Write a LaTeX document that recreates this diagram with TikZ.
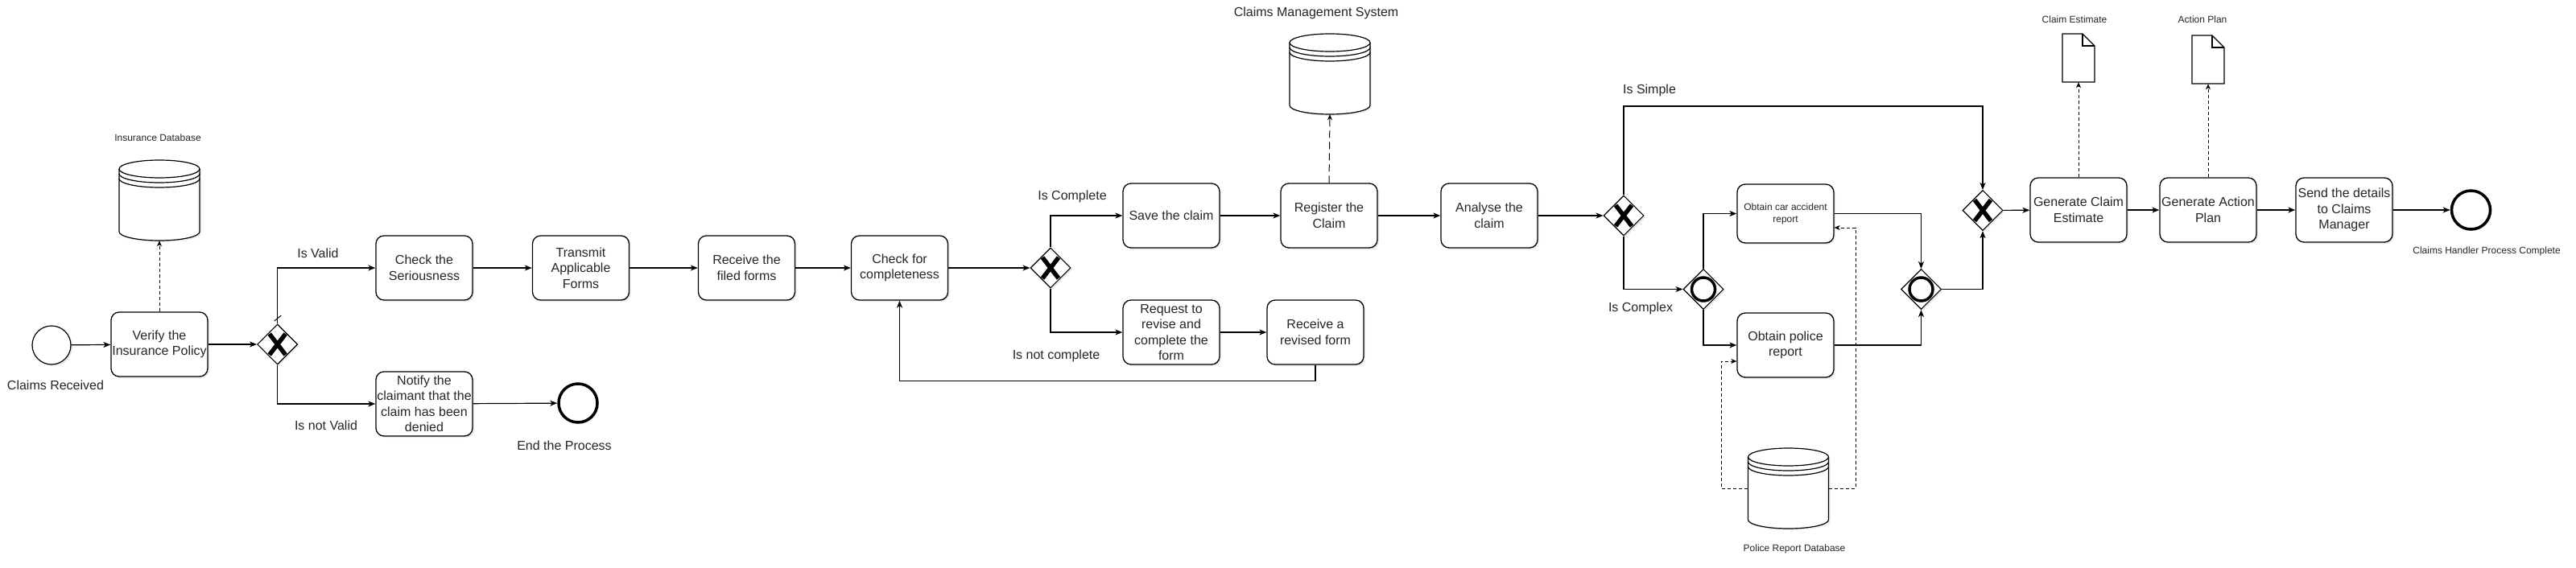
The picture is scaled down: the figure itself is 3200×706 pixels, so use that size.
\documentclass[tikz,border=0pt]{standalone}
\usepackage{fontspec}
\setmainfont{Liberation Sans}
\usetikzlibrary{arrows.meta,shapes.geometric,shadows}
\tikzset{
  shad/.style={drop shadow={shadow xshift=2pt, shadow yshift=-2pt, opacity=0.18}},
  task/.style={draw=black, line width=1.3pt, rectangle, rounded corners=10pt,
    minimum width=120pt, minimum height=80pt, align=center, inner sep=1pt,
    fill=white, font=\fontsize{16}{19.5}\selectfont, text=black!85, shad},
  smalltask/.style={task, minimum height=73pt, font=\fontsize{12}{15}\selectfont},
  gw/.style={draw=black, line width=1.1pt, diamond, minimum width=50pt,
    minimum height=50pt, inner sep=0pt, fill=white, shad},
  startev/.style={draw=black, line width=1.2pt, circle, minimum size=48pt,
    inner sep=0pt, fill=white, shad},
  endev/.style={startev, line width=3.5pt},
  lbl/.style={font=\fontsize{16}{19}\selectfont, text=black!85, inner sep=0pt},
  slbl/.style={font=\fontsize{12}{14}\selectfont, text=black!85, inner sep=0pt},
  holder/.style={rectangle, inner sep=0pt, minimum width=#1},
  flow/.style={line width=1.2pt, -{Stealth[length=9pt,width=7pt,inset=2.5pt]}},
  assoc/.style={line width=1pt, dash pattern=on 4pt off 3pt,
    -{Stealth[length=7pt,width=6pt,inset=2pt]}},
  assocl/.style={assoc, dash pattern=on 9pt off 5pt},
  shapeline/.style={draw=black, line width=1.2pt, fill=white}
}
\newcommand\gwx[1]{\draw[line width=5.5pt]
  ([shift={(-10pt,13pt)}]#1.center) -- ([shift={(10pt,-13pt)}]#1.center)
  ([shift={(-10pt,-13pt)}]#1.center) -- ([shift={(10pt,13pt)}]#1.center);}
\newcommand\gwo[1]{\draw[line width=3.5pt] (#1.center) circle[radius=14.5pt];}
% data store: name, x, y
\newcommand\dstore[3]{%
  \node[holder=100pt, minimum height=100pt] (#1) at (#2,#3) {};
  \path[shapeline, drop shadow={shadow xshift=2pt, shadow yshift=-2pt, opacity=0.15}]
    ([shift={(-50pt,39pt)}]#1.center) -- ([shift={(-50pt,-39pt)}]#1.center)
    arc[start angle=180, end angle=360, x radius=50pt, y radius=11pt]
    -- ([shift={(50pt,39pt)}]#1.center)
    arc[start angle=0, end angle=180, x radius=50pt, y radius=11pt] -- cycle;
  \draw[line width=1.2pt] ([shift={(-50pt,39pt)}]#1.center)
    arc[start angle=180, end angle=360, x radius=50pt, y radius=11pt];
  \draw[line width=1.2pt] ([shift={(-50pt,33pt)}]#1.center)
    arc[start angle=180, end angle=360, x radius=50pt, y radius=11pt];
  \draw[line width=1.2pt] ([shift={(-50pt,27pt)}]#1.center)
    arc[start angle=180, end angle=360, x radius=50pt, y radius=11pt];
}
% document: name, x, y
\newcommand\docshape[3]{%
  \node[holder=40pt, minimum height=60pt] (#1) at (#2,#3) {};
  \path[shapeline] ([shift={(-20pt,30pt)}]#1.center) -- ([shift={(5pt,30pt)}]#1.center)
    -- ([shift={(20pt,15pt)}]#1.center) -- ([shift={(20pt,-30pt)}]#1.center)
    -- ([shift={(-20pt,-30pt)}]#1.center) -- cycle;
  \draw[line width=1.2pt] ([shift={(5pt,30pt)}]#1.center) -- ([shift={(5pt,15pt)}]#1.center)
    -- ([shift={(20pt,15pt)}]#1.center);
}
\begin{document}
\begin{tikzpicture}[x=1pt,y=-1pt]
\useasboundingbox[fill=white] (0,0) rectangle (3200,706);

% ---------- stores and documents ----------
\dstore{insdb}{198}{249}
\dstore{cms}{1652}{92}
\dstore{policedb}{2221.5}{607}
\docshape{doca}{2582}{72}
\docshape{docb}{2743}{74}

% ---------- events ----------
\node[startev] (start) at (64,429) {};
\node[endev] (endA) at (718,501) {};
\node[endev] (endB) at (3069.5,261) {};

% ---------- tasks ----------
\node[task] (verify) at (198,428) {Verify the\\Insurance Policy};
\node[task] (check) at (527,333) {Check the\\Seriousness};
\node[task] (notify) at (527,502) {Notify the\\claimant that the\\claim has been\\denied};
\node[task] (transmit) at (721.5,333) {Transmit\\Applicable\\Forms};
\node[task] (receive) at (927.5,333) {Receive the\\filed forms};
\node[task] (complete) at (1117.5,333) {Check for\\completeness};
\node[task] (save) at (1455,268) {Save the claim};
\node[task] (register) at (1651,268) {Register the\\Claim};
\node[task] (request) at (1455,413) {Request to\\revise and\\complete the\\form};
\node[task] (revised) at (1634,413) {Receive a\\revised form};
\node[task] (analyse) at (1850,268) {Analyse the\\claim};
\node[smalltask] (car) at (2218,265.5) {Obtain car accident\\report};
\node[task] (police) at (2218,429) {Obtain police\\report};
\node[task] (genA) at (2582,261) {Generate Claim\\Estimate};
\node[task] (genB) at (2743,261) {Generate Action\\Plan};
\node[task] (send) at (2912,261) {Send the details\\to Claims\\Manager};

% ---------- gateways ----------
\node[gw] (g1) at (344.7,428) {};
\node[gw] (g2) at (1305,333) {};
\node[gw] (g3) at (2017,268) {};
\node[gw] (g5) at (2116,359.5) {};
\node[gw] (g6) at (2386.5,359.5) {};
\node[gw] (g4) at (2463,261.5) {};
\gwx{g1}\gwx{g2}\gwx{g3}\gwx{g4}
\gwo{g5}\gwo{g6}

% ---------- labels ----------
\node[lbl] (lstart) at (69,479) {Claims Received};
\node[lbl] (lend) at (701,554) {End the Process};
\node[slbl] (linsdb) at (196,171) {Insurance Database};
\node[lbl] (lcms) at (1635,16) {Claims Management System};
\node[slbl] (lpdb) at (2229,682) {Police Report Database};
\node[slbl] (ldoca) at (2577,24) {Claim Estimate};
\node[slbl] (ldocb) at (2736,24) {Action Plan};
\node[slbl] (lendB) at (3089,312) {Claims Handler Process Complete};
\node[lbl] (lvalid) at (395,315) {Is Valid};
\node[lbl] (lnvalid) at (405,529) {Is not Valid};
\node[lbl] (lcompl) at (1332,244) {Is Complete};
\node[lbl] (lncompl) at (1312,442) {Is not complete};
\node[lbl] (lsimple) at (2049,112) {Is Simple};
\node[lbl] (lcomplex) at (2038,383) {Is Complex};

% ---------- helper coordinates ----------
\coordinate (sy) at (2017,132);
\coordinate (pl) at (2138,607);
\coordinate (pr) at (2305,607);

% ---------- sequence flows ----------
\draw[flow] (start) -- (verify);
\draw[flow] (verify) -- (g1);
\draw[flow] (g1.north) |- (check.west);
\draw[flow] (g1.south) |- (notify.west);
\draw[line width=1pt] (340.7,399) -- (349.3,392);
\draw[flow] (notify) -- (endA);
\draw[flow] (check) -- (transmit);
\draw[flow] (transmit) -- (receive);
\draw[flow] (receive) -- (complete);
\draw[flow] (complete) -- (g2);
\draw[flow] (g2.north) |- (save.west);
\draw[flow] (g2.south) |- (request.west);
\draw[flow] (save) -- (register);
\draw[flow] (request) -- (revised);
\draw[flow] (revised.south) -- ++(0,20) -| (complete.south);
\draw[flow] (register) -- (analyse);
\draw[flow] (analyse) -- (g3);
\draw[flow] (g3.north) -- (sy) -| (g4.north);
\draw[flow] (g3.south) |- (g5.west);
\draw[flow] (g5.north) |- (car.west);
\draw[flow] (g5.south) |- (police.west);
\draw[flow] (car.east) -| (g6.north);
\draw[flow] (police.east) -| (g6.south);
\draw[flow] (g6.east) -| (g4.south);
\draw[flow] (g4) -- (genA);
\draw[flow] (genA) -- (genB);
\draw[flow] (genB) -- (send);
\draw[flow] (send) -- (endB);

% ---------- associations ----------
\draw[assoc] (verify.north) -- (insdb.south);
\draw[assocl] (register.north) -- (cms.south);
\draw[assoc] (genA.north) -- (doca.south);
\draw[assoc] (genB.north) -- (docb.south);
\draw[assoc] (policedb.west) -- (pl) |- ([yshift=-20pt]police.west);
\draw[assoc] (policedb.east) -- (pr) |- ([yshift=-17.5pt]car.east);
\end{tikzpicture}
\end{document}
